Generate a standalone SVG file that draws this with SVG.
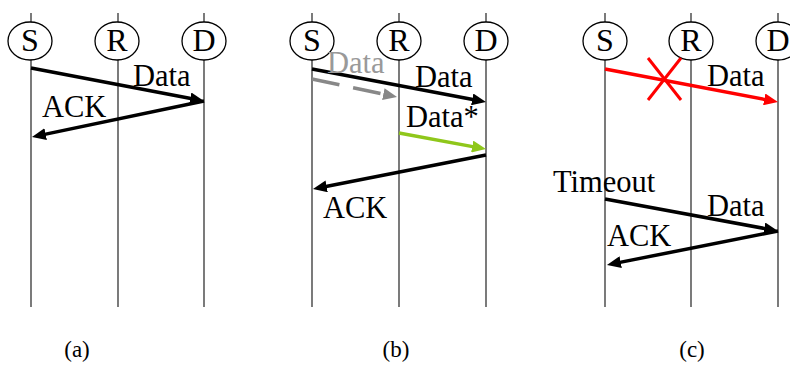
<svg xmlns="http://www.w3.org/2000/svg" width="790" height="365" viewBox="0 0 790 365">
<style>
.life{stroke:#333;stroke-width:1.3;fill:none}
.node ellipse{fill:#fff;stroke:#000;stroke-width:1.3}
text{font-family:'Liberation Serif','DejaVu Serif','Times New Roman',Times,serif}
.node text{font-size:32px;text-anchor:middle;fill:#000}
.lbl{font-size:30.5px;fill:#000}
.lbl.gray{fill:#999}
.cap{font-size:23px;text-anchor:middle;fill:#000}
.msg{fill:none;stroke-width:3.5}
</style>
<defs>
<marker id="ahK" markerUnits="userSpaceOnUse" markerWidth="14" markerHeight="12" refX="6" refY="6" orient="auto"><path d="M0,0 L14,6 L0,12 z" fill="#000"/></marker>
<marker id="ahG" markerUnits="userSpaceOnUse" markerWidth="14" markerHeight="12" refX="6" refY="6" orient="auto"><path d="M0,0 L14,6 L0,12 z" fill="#888"/></marker>
<marker id="ahY" markerUnits="userSpaceOnUse" markerWidth="14" markerHeight="12" refX="6" refY="6" orient="auto"><path d="M0,0 L14,6 L0,12 z" fill="#8fc71b"/></marker>
<marker id="ahR" markerUnits="userSpaceOnUse" markerWidth="14" markerHeight="12" refX="6" refY="6" orient="auto"><path d="M0,0 L14,6 L0,12 z" fill="#f00"/></marker>
</defs>
<rect width="790" height="365" fill="#fff"/>
<g id="lifelines">
<line class="life" x1="31" y1="13" x2="31" y2="307"/>
<line class="life" x1="118" y1="13" x2="118" y2="307"/>
<line class="life" x1="204" y1="13" x2="204" y2="307"/>
<line class="life" x1="312" y1="13" x2="312" y2="307"/>
<line class="life" x1="399" y1="13" x2="399" y2="307"/>
<line class="life" x1="486" y1="13" x2="486" y2="307"/>
<line class="life" x1="605" y1="13" x2="605" y2="307"/>
<line class="life" x1="691" y1="13" x2="691" y2="307"/>
<line class="life" x1="778" y1="13" x2="778" y2="307"/>
</g>
<g id="a-S" class="node"><ellipse cx="30" cy="41" rx="22" ry="19"/><text x="30" y="51">S</text></g>
<g id="a-R" class="node"><ellipse cx="117" cy="41" rx="22" ry="19"/><text x="117" y="51">R</text></g>
<g id="a-D" class="node"><ellipse cx="204" cy="41" rx="22" ry="19"/><text x="204" y="51">D</text></g>
<g id="b-S" class="node"><ellipse cx="312" cy="41" rx="22" ry="19"/><text x="312" y="51">S</text></g>
<g id="b-R" class="node"><ellipse cx="399" cy="41" rx="22" ry="19"/><text x="399" y="51">R</text></g>
<g id="b-D" class="node"><ellipse cx="486" cy="41" rx="22" ry="19"/><text x="486" y="51">D</text></g>
<g id="c-S" class="node"><ellipse cx="605" cy="41" rx="22" ry="19"/><text x="605" y="51">S</text></g>
<g id="c-R" class="node"><ellipse cx="691" cy="41" rx="22" ry="19"/><text x="691" y="51">R</text></g>
<g id="c-D" class="node"><ellipse cx="778" cy="41" rx="22" ry="19"/><text x="778" y="51">D</text></g>
<g id="connectors">
<line class="msg" stroke="#000" x1="31" y1="68" x2="196.1" y2="99.5" marker-end="url(#ahK)"/>
<line class="msg" stroke="#000" x1="204" y1="101" x2="39.8" y2="135.4" marker-end="url(#ahK)"/>
<line class="msg" stroke="#000" x1="312" y1="69" x2="478.1" y2="100.5" marker-end="url(#ahK)"/>
<line class="msg" stroke="#888" stroke-dasharray="28 14" x1="312" y1="79" x2="389.2" y2="95.3" marker-end="url(#ahG)"/>
<line class="msg" stroke="#8fc71b" x1="399" y1="133" x2="478.1" y2="147.6" marker-end="url(#ahY)"/>
<line class="msg" stroke="#000" x1="486" y1="155" x2="320.8" y2="187.5" marker-end="url(#ahK)"/>
<line class="msg" stroke="#f00" x1="605" y1="69" x2="770.1" y2="100.5" marker-end="url(#ahR)"/>
<line class="msg" stroke="#000" x1="605" y1="199" x2="770.1" y2="229.5" marker-end="url(#ahK)"/>
<line class="msg" stroke="#000" x1="778" y1="231" x2="614.8" y2="263.4" marker-end="url(#ahK)"/>
<g id="cross" stroke="#f00" stroke-width="3">
<line x1="648" y1="58" x2="681" y2="100"/>
<line x1="681" y1="58" x2="648" y2="100"/>
</g>
</g>
<g id="labels">
<text class="lbl" x="133" y="86">Data</text>
<text class="lbl" x="42" y="117">ACK</text>
<text class="lbl gray" x="327" y="73">Data</text>
<text class="lbl" x="415" y="87">Data</text>
<text class="lbl" x="406" y="127">Data*</text>
<text class="lbl" x="323" y="218">ACK</text>
<text class="lbl" x="707" y="86">Data</text>
<text class="lbl" x="553" y="192">Timeout</text>
<text class="lbl" x="707" y="216">Data</text>
<text class="lbl" x="607" y="246">ACK</text>
</g>
<g id="captions">
<text class="cap" x="77" y="357">(a)</text>
<text class="cap" x="396" y="357">(b)</text>
<text class="cap" x="692" y="357">(c)</text>
</g>
</svg>
